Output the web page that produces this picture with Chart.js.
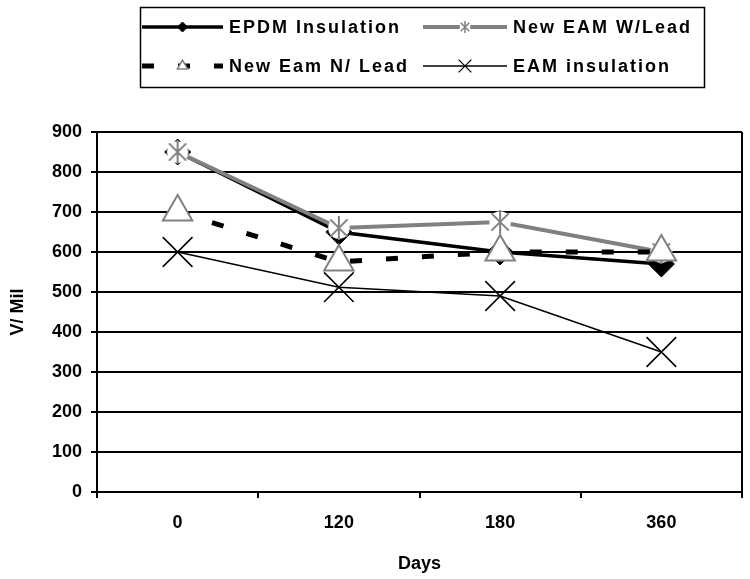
<!DOCTYPE html>
<html>
<head>
<meta charset="utf-8">
<script src="https://cdn.jsdelivr.net/npm/chart.js@4.4.1/dist/chart.umd.min.js"></script>
<style>
html, body { margin: 0; padding: 0; background: #fff; overflow: hidden; }
#wrap { width: 750px; height: 579px; position: relative; }
#chart { display: block; }
</style>
</head>
<body>
<div id="wrap"><canvas id="chart"></canvas></div>
<script>
// Days after exposure
const days = ['0', '120', '180', '360'];

// V/Mil readings
const epdmInsulation = [850, 650, 600, 570];
const newEamWLead = [850, 660, 675, 600];
const newEamNLead = [700, 575, 600, 600];
const eamInsulation = [600, 512, 490, 350];

const seriesNames = ['EPDM Insulation', 'New EAM W/Lead', 'New Eam N/ Lead', 'EAM insulation'];
const yTicks = [0, 100, 200, 300, 400, 500, 600, 700, 800, 900];

const FONT = '"Liberation Sans", Arial, sans-serif';
const GRAY = '#808080';

// asterisk marker with white backing, like the excel one
function makeAsterisk(r, lw) {
    const c = document.createElement('canvas');
    const s = Math.ceil(2 * r + 4);
    c.width = s;
    c.height = s;
    const g = c.getContext('2d');
    const m = s / 2;
    g.fillStyle = '#fff';
    g.beginPath();
    g.arc(m, m, r * 0.9, 0, Math.PI * 2);
    g.fill();
    g.strokeStyle = GRAY;
    g.lineWidth = lw;
    g.beginPath();
    g.moveTo(m, m - r); g.lineTo(m, m + r);
    const d = r * 0.72;
    g.moveTo(m - d, m - d); g.lineTo(m + d, m + d);
    g.moveTo(m + d, m - d); g.lineTo(m - d, m + d);
    g.stroke();
    return c;
}

const bigStar = makeAsterisk(12, 2);
const smallStar = makeAsterisk(6, 1.5);

const plotFrame = {
    id: 'plotFrame',
    beforeDatasetsDraw(chart) {
        const { ctx, chartArea } = chart;
        ctx.save();
        ctx.strokeStyle = '#000';
        ctx.lineWidth = 2;
        ctx.beginPath();
        ctx.moveTo(chartArea.right, chartArea.top);
        ctx.lineTo(chartArea.right, chartArea.bottom);
        ctx.stroke();
        ctx.restore();
    }
};

const boxLegend = {
    id: 'boxLegend',
    afterDraw(chart) {
        const ctx = chart.ctx;
        ctx.save();
        ctx.strokeStyle = '#000';
        ctx.lineWidth = 1.5;
        ctx.strokeRect(140.5, 7.5, 564, 80);

        const cols = [{ x0: 142, x1: 223, tx: 229 }, { x0: 423, x1: 507, tx: 513 }];
        const rows = [27, 66];
        const small = [
            { pointStyle: 'rectRot', radius: 5, borderWidth: 1 },
            { pointStyle: smallStar, radius: 6, borderWidth: 0 },
            { pointStyle: 'triangle', radius: 6, borderWidth: 1.5 },
            { pointStyle: 'crossRot', radius: 9, borderWidth: 1.2 }
        ];

        chart.data.datasets.forEach((ds, i) => {
            const col = cols[i % 2];
            const y = rows[Math.floor(i / 2)];
            ctx.save();
            ctx.strokeStyle = ds.borderColor;
            ctx.lineWidth = ds.borderWidth;
            ctx.setLineDash(ds.borderDash || []);
            ctx.beginPath();
            ctx.moveTo(col.x0, y);
            ctx.lineTo(col.x1, y);
            ctx.stroke();
            ctx.restore();

            ctx.save();
            ctx.fillStyle = ds.pointBackgroundColor;
            ctx.strokeStyle = ds.pointBorderColor;
            ctx.lineWidth = small[i].borderWidth;
            Chart.helpers.drawPoint(ctx, small[i], (col.x0 + col.x1) / 2, y);
            ctx.restore();

            ctx.fillStyle = '#000';
            ctx.font = 'bold 18px ' + FONT;
            ctx.textBaseline = 'middle';
            ctx.letterSpacing = '2px';
            ctx.fillText(ds.label, col.tx, y + 1);
        });
        ctx.restore();
    }
};

const ctx = document.getElementById('chart').getContext('2d');
const chart = new Chart(ctx, {
    type: 'line',
    data: {
        labels: days,
        datasets: [
            {
                label: seriesNames[0],
                data: epdmInsulation,
                borderColor: '#000',
                borderWidth: 3.5,
                pointStyle: 'rectRot',
                pointRadius: 13,
                pointBackgroundColor: '#000',
                pointBorderColor: '#000',
                pointBorderWidth: 1,
                order: 4
            },
            {
                label: seriesNames[1],
                data: newEamWLead,
                borderColor: GRAY,
                borderWidth: 4,
                pointStyle: bigStar,
                pointRadius: 12,
                pointBackgroundColor: '#fff',
                pointBorderColor: GRAY,
                order: 3
            },
            {
                label: seriesNames[2],
                data: newEamNLead,
                borderColor: '#000',
                borderWidth: 5,
                borderDash: [12, 24],
                pointStyle: 'triangle',
                pointRadius: 17,
                pointBackgroundColor: '#fff',
                pointBorderColor: GRAY,
                pointBorderWidth: 2,
                order: 2
            },
            {
                label: seriesNames[3],
                data: eamInsulation,
                borderColor: '#000',
                borderWidth: 1.5,
                pointStyle: 'crossRot',
                pointRadius: 21,
                pointBackgroundColor: '#000',
                pointBorderColor: '#000',
                pointBorderWidth: 1.5,
                order: 1
            }
        ]
    },
    options: {
        responsive: true,
        maintainAspectRatio: false,
        animation: false,
        clip: false,
        layout: {
            autoPadding: false,
            padding: { top: 132, right: 8, bottom: 0, left: 0 }
        },
        elements: {
            line: { tension: 0 },
            point: { hoverRadius: 0 }
        },
        scales: {
            x: {
                offset: true,
                grid: {
                    offset: true,
                    drawOnChartArea: false,
                    drawTicks: true,
                    tickLength: 6,
                    color: '#000',
                    lineWidth: 2
                },
                border: { display: true, color: '#000', width: 2 },
                ticks: {
                    color: '#000',
                    padding: 14,
                    font: { family: FONT, size: 18, weight: 'bold' }
                },
                title: {
                    display: true,
                    text: 'Days',
                    color: '#000',
                    padding: { top: 0, bottom: 4 },
                    font: { family: FONT, size: 18, weight: 'bold' }
                },
                afterFit(scale) {
                    scale.height = 87;
                    scale.paddingLeft = 0;
                    scale.paddingRight = 0;
                }
            },
            y: {
                min: 0,
                max: 900,
                afterBuildTicks(scale) {
                    scale.ticks = yTicks.map(v => ({ value: v }));
                },
                grid: {
                    color: '#000',
                    lineWidth: 2,
                    drawTicks: true,
                    tickLength: 6
                },
                border: { display: true, color: '#000', width: 2 },
                ticks: {
                    color: '#000',
                    padding: 9,
                    font: { family: FONT, size: 18, weight: 'bold' }
                },
                title: {
                    display: true,
                    text: 'V/ Mil',
                    color: '#000',
                    padding: { top: 7, bottom: 0 },
                    font: { family: FONT, size: 18, weight: 'bold' }
                },
                afterFit(scale) { scale.width = 97; }
            }
        },
        plugins: {
            legend: { display: false },
            tooltip: { enabled: false }
        }
    },
    plugins: [plotFrame, boxLegend]
});
</script>
</body>
</html>
